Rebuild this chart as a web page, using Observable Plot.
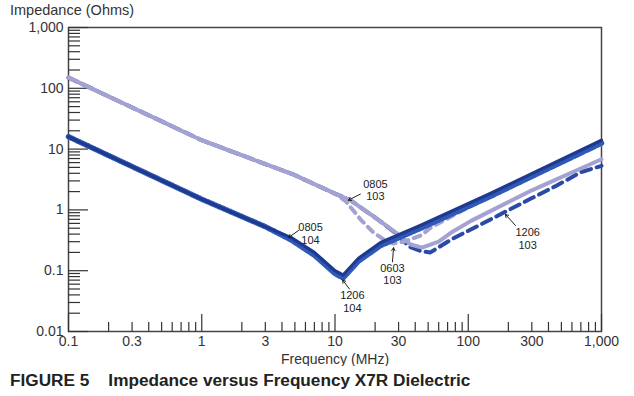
<!DOCTYPE html>
<html>
<head>
<meta charset="utf-8">
<script src="https://cdn.jsdelivr.net/npm/d3@7"></script>
<script src="https://cdn.jsdelivr.net/npm/@observablehq/plot@0.6"></script>
<style>
  html, body { margin: 0; padding: 0; background: #fff; }
  #wrap { position: relative; width: 634px; height: 396px; font-family: "Liberation Sans", Arial, sans-serif; }
  #ytitle { position: absolute; left: 10px; top: 2px; font-size: 14.5px; color: #333; }
  #caption { position: absolute; left: 10px; top: 370px; font-size: 17.2px; font-weight: bold; color: #222; white-space: pre; }
</style>
</head>
<body>
<div id="wrap">
  <div id="chart"></div>
  <div id="ytitle">Impedance (Ohms)</div>
  <div id="caption">FIGURE 5    Impedance versus Frequency X7R Dielectric</div>
</div>
<script>
// ---- series data (frequency MHz, impedance Ohms) ----
const f_0805_103 = [0.1, 1, 4.9, 10, 13, 20, 28.8, 37, 45, 60, 74, 105, 300, 1000];
const z_0805_103 = [150, 14, 3.8, 1.85, 1.45, 0.75, 0.42, 0.27, 0.24, 0.3, 0.42, 0.66, 2.1, 6.8];

const f_0603_103 = [0.1, 1, 4.9, 10, 12, 15.7, 19.3, 23, 27.3, 33, 44, 53, 100, 300, 1000];
const z_0603_103 = [150, 14, 3.8, 1.85, 1.4, 0.68, 0.43, 0.33, 0.28, 0.3, 0.38, 0.52, 1.1, 3.5, 12];

const f_1206_103 = [0.1, 1, 4.9, 10, 13, 20, 28.8, 36, 44, 52, 77, 121, 193, 298, 458, 706, 1000];
const z_1206_103 = [150, 14, 3.8, 1.85, 1.45, 0.75, 0.41, 0.25, 0.21, 0.2, 0.34, 0.56, 0.95, 1.55, 2.5, 4.2, 5.3];

const f_0805_104 = [0.1, 1, 3, 4.7, 7, 10, 11.5, 15, 22, 44, 149, 1000];
const z_0805_104 = [16, 1.5, 0.53, 0.35, 0.2, 0.1, 0.085, 0.16, 0.29, 0.56, 1.9, 14];

const f_1206_104 = [0.1, 1, 3, 4.7, 7, 10, 11.5, 15, 22, 44, 149, 1000];
const z_1206_104 = [16, 1.5, 0.53, 0.32, 0.18, 0.09, 0.076, 0.144, 0.26, 0.5, 1.7, 12.6];

// ---- axis ticks ----
const yDecades = [0.01, 0.1, 1, 10, 100, 1000];
const xDecades = [0.1, 1, 10, 100, 1000];
const xTickValues = [0.1, 0.3, 1, 3, 10, 30, 100, 300, 1000];
const minorMultipliers = [2, 3, 4, 5, 6, 7, 8, 9];

// ---- annotations ----
const annLabels = ["0805\n103", "0805\n104", "1206\n104", "0603\n103", "1206\n103"];
const annX = [20.1, 6.55, 13.5, 27, 279];
const annY = [2.12, 0.41, 0.0315, 0.0885, 0.337];
const arrX1 = [15.5, 5.32, 12.85, 27, 226];
const arrY1 = [1.82, 0.458, 0.0499, 0.14, 0.555];
const arrX2 = [12.6, 4.48, 11.4, 27.5, 190];
const arrY2 = [1.44, 0.351, 0.0703, 0.239, 0.845];

const toRows = (fs, zs) => fs.map((f, i) => ({f, z: zs[i]}));
const s0805_103 = toRows(f_0805_103, z_0805_103);
const s0603_103 = toRows(f_0603_103, z_0603_103);
const s1206_103 = toRows(f_1206_103, z_1206_103);
const s0805_104 = toRows(f_0805_104, z_0805_104);
const s1206_104 = toRows(f_1206_104, z_1206_104);

const minorOf = (decs) => decs.slice(0, -1).flatMap(d => minorMultipliers.map(m => m * d));
const yMinor = minorOf(yDecades);
const xMinor = minorOf(xDecades);

const ann = annLabels.map((t, i) => ({t, x: annX[i], y: annY[i]}));
const arrows = annLabels.map((t, i) => ({x1: arrX1[i], y1: arrY1[i], x2: arrX2[i], y2: arrY2[i]}));

const light = "#a3a2d2";
const fmt = d3.format(",");

const chart = Plot.plot({
  width: 634,
  height: 366,
  marginLeft: 68,
  marginRight: 33,
  marginTop: 27,
  marginBottom: 35,
  style: {fontFamily: "'Liberation Sans', Arial, sans-serif", color: "#333", background: "#fff"},
  x: {type: "log", domain: [0.1, 1000]},
  y: {type: "log", domain: [0.01, 1000]},
  marks: [
    Plot.frame({stroke: "#444", strokeWidth: 1.5}),
    // y ticks (inward)
    Plot.axisY(yMinor, {anchor: "left", tickSize: -12, tickFormat: () => "", label: null, strokeWidth: 1.2}),
    Plot.axisY(yDecades, {anchor: "left", tickSize: -20, tickFormat: () => "", label: null, strokeWidth: 1.2}),
    Plot.axisY(yDecades, {anchor: "left", tickSize: 0, tickPadding: 5, tickFormat: fmt, label: null, fontSize: 14}),
    // x ticks (inward)
    Plot.axisX(xMinor, {anchor: "bottom", tickSize: -9, tickFormat: () => "", label: null, strokeWidth: 1.2}),
    Plot.axisX(xDecades, {anchor: "bottom", tickSize: -17, tickFormat: () => "",
      label: "Frequency (MHz)", labelAnchor: "center", labelArrow: "none", labelOffset: 32, fontSize: 14, strokeWidth: 1.2}),
    Plot.text(xTickValues, {x: d => d, frameAnchor: "bottom", lineAnchor: "top", dy: 5, text: d => fmt(d), fontSize: 14, fill: "#333"}),
    // series
    Plot.line(s1206_103, {x: "f", y: "z", stroke: "#2a4aa5", strokeWidth: 4, strokeDasharray: "10,6"}),
    Plot.line(s0805_103, {x: "f", y: "z", stroke: light, strokeWidth: 4}),
    Plot.line(s0603_103, {x: "f", y: "z", stroke: light, strokeWidth: 4, strokeDasharray: "7,6"}),
    Plot.line(s1206_104, {x: "f", y: "z", stroke: "#3058b6", strokeWidth: 5.5, strokeDasharray: "1.5,1.5"}),
    Plot.line(s0805_104, {x: "f", y: "z", stroke: "#1d3a8e", strokeWidth: 3.2}),
    // annotations
    Plot.arrow(arrows, {x1: "x1", y1: "y1", x2: "x2", y2: "y2", stroke: "#222", strokeWidth: 1, headLength: 5}),
    Plot.text(ann, {x: "x", y: "y", text: "t", fontSize: 11, lineHeight: 1.15, fill: "#222"})
  ]
});
document.getElementById("chart").appendChild(chart);
</script>
</body>
</html>
